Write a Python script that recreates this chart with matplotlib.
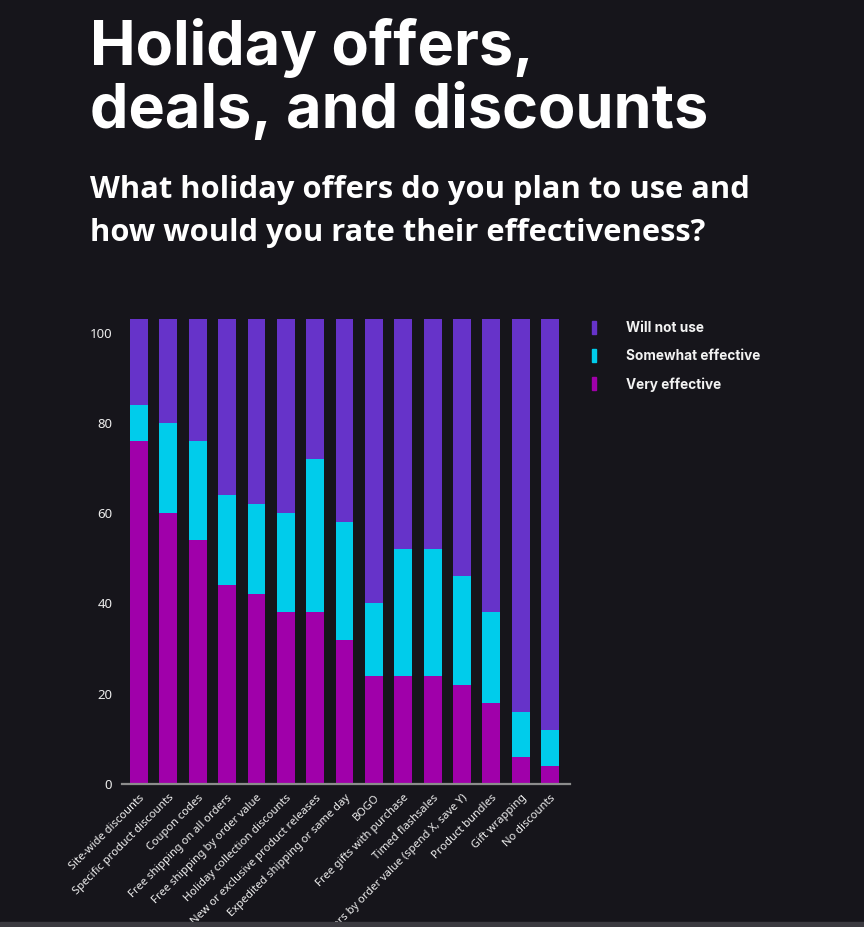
import matplotlib
matplotlib.use("Agg")
import matplotlib.pyplot as plt
from matplotlib.patches import Rectangle
import numpy as np

# data
offers = ["Site-wide discounts", "Specific product discounts", "Coupon codes",
          "Free shipping on all orders", "Free shipping by order value",
          "Holiday collection discounts", "New or exclusive product releases",
          "Expedited shipping or same day", "BOGO", "Free gifts with purchase",
          "Timed flashsales", "Free shipping tiers by order value (spend X, save Y)",
          "Product bundles", "Gift wrapping", "No discounts"]
very_effective = [76, 60, 54, 44, 42, 38, 38, 32, 24, 24, 24, 22, 18, 6, 4]
somewhat_effective = [8, 20, 22, 20, 20, 22, 34, 26, 16, 28, 28, 24, 20, 10, 8]
will_not_use = [19, 23, 27, 39, 41, 43, 31, 45, 63, 51, 51, 57, 65, 87, 91]
y_ticks = [0, 20, 40, 60, 80, 100]

BG = "#16151b"
C_WNU = "#6633c9"
C_SOM = "#00cceb"
C_VERY = "#a000aa"

W, H = 864, 927
fig = plt.figure(figsize=(W / 100, H / 100), dpi=100, facecolor=BG)

# axes placed in pixels: x 122..570, y 319..784 from top
ax = fig.add_axes([122 / W, (H - 784) / H, 448 / W, 465 / H], facecolor=BG)

x = np.arange(len(offers))
very = np.array(very_effective)
som = np.array(somewhat_effective)
wnu = np.array(will_not_use)
ax.bar(x, very, width=0.61, color=C_VERY, zorder=2)
ax.bar(x, som, width=0.61, bottom=very, color=C_SOM, zorder=2)
ax.bar(x, wnu, width=0.61, bottom=very + som, color=C_WNU, zorder=2)

ax.set_xlim(-0.58, 14.68)
ax.set_ylim(0, 103)
ax.set_yticks(y_ticks)
ax.set_xticks(x)
ax.set_xticklabels(offers, rotation=45, ha="right", rotation_mode="anchor",
                   fontsize=8.0, color="#f0f0f0", family="Noto Sans")
for lab in ax.get_yticklabels():
    lab.set_family("Noto Sans")
ax.tick_params(axis="y", length=0, pad=7, labelsize=9.5, labelcolor="#ececec")
ax.tick_params(axis="x", length=0, pad=6)
for s in ["top", "right", "left"]:
    ax.spines[s].set_visible(False)
ax.spines["bottom"].set_color("#8c8c8c")
ax.spines["bottom"].set_linewidth(1.6)
ax.spines["bottom"].set_zorder(3)

# legend
handles = [Rectangle((0, 0), 1, 1, color=c) for c in (C_WNU, C_SOM, C_VERY)]
fig.legend(handles, ["Will not use", "Somewhat effective", "Very effective"],
           loc="upper left", bbox_to_anchor=(592 / W, 1 - 321 / H),
           frameon=False, handlelength=0.3, handleheight=1.1,
           handletextpad=2.2, labelspacing=1.02, borderpad=0, borderaxespad=0,
           prop={"family": "Inter", "weight": "bold", "size": 9.8},
           labelcolor="#f2f2f2")

# titles
fig.text(90 / W, 1 - 65 / H, "Holiday offers,", fontsize=44, weight="bold",
         family="Inter", color="white", va="baseline")
fig.text(90 / W, 1 - 128 / H, "deals, and discounts", fontsize=44, weight="bold",
         family="Inter", color="white", va="baseline")
sub1 = fig.text(90 / W, 1 - 198 / H, "What holiday offers do you plan to use and",
                fontsize=19, weight="bold", family="Open Sans", color="white",
                va="baseline")
sub2 = fig.text(90 / W, 1 - 241 / H, "how would you rate their effectiveness?",
                fontsize=19, weight="bold", family="Open Sans", color="white",
                va="baseline")

# fit the subtitle's first line to the reference width (90..748 px)
r = fig.canvas.get_renderer()
wpx = sub1.get_window_extent(r).width
size = 19 * 658 / wpx
sub1.set_fontsize(size)
sub2.set_fontsize(size)

# grey strip along the bottom edge
fig.add_artist(Rectangle((0, 0), 1, 5 / H, transform=fig.transFigure,
                         color="#3b3a40", zorder=10))

fig.savefig("out.png", dpi=100, facecolor=BG)
